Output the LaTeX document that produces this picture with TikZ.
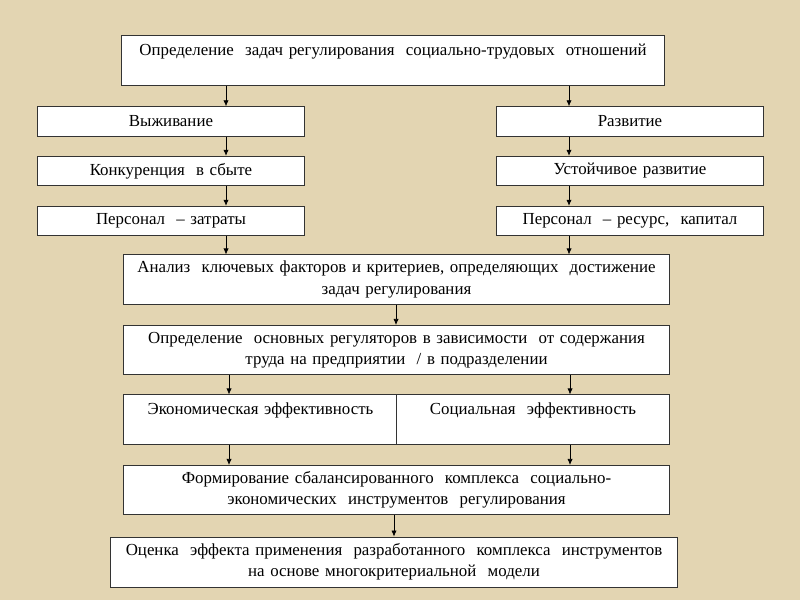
\documentclass[tikz,border=0pt]{standalone}
\usepackage{fontspec}
\setmainfont{Liberation Serif}
\usepackage{xcolor}
\usetikzlibrary{arrows.meta,positioning}
\definecolor{pagebg}{RGB}{227,213,178}

\begin{document}
\begin{tikzpicture}[
    x=0.025cm, y=-0.025cm,
    node distance=0.5cm,
    every node/.style={font=\rmfamily\fontsize{12}{15}\selectfont},
    box/.style={draw=black!80, fill=white, align=center, inner sep=2pt,
                line width=0.6pt},
    small/.style={box, text width=6.55cm, minimum height=0.74cm},
    wide/.style={box, text width=13.5cm, minimum height=1.23cm},
    half/.style={box, text width=6.7cm, minimum height=1.23cm},
    arrow/.style={-{Latex[length=1.5mm,width=1.3mm]}, line width=0.5pt, draw=black},
]
\useasboundingbox[fill=pagebg] (0,0) rectangle (800,600);

% Top box
\node[box, text width=13.45cm, minimum height=1.23cm] (task) at (393,60.5)
    {Определение \ задач регулирования \ социально-трудовых \ отношений\\ ~};

% Left column
\node[small] (surv)  at (171,121.5) {Выживание};
\node[small] (comp)  at (171,171)   {Конкуренция \ в сбыте};
\node[small] (costs) at (171,221)   {Персонал \ -- затраты};

% Right column
\node[small] (devel)  at (630,121.5) {Развитие};
\node[small] (sustd)  at (630,171)   {Устойчивое развитие};
\node[small] (capit)  at (630,221)   {Персонал \ -- ресурс, \ капитал};

% Main column
\node[wide] (anal)  at (396.5,279.5)
    {Анализ \ ключевых факторов и критериев, определяющих \ достижение\\ задач регулирования};
\node[wide] (regul) at (396.5,350)
    {Определение \ основных регуляторов в зависимости \ от содержания\\ труда на предприятии \ / в подразделении};
\node[half] (econ) at (260.5,419.5)
    {Экономическая эффективность\\ ~};
\node[half] (socl) at (533,419.5)
    {Социальная \ эффективность\\ ~};
\node[wide] (form)  at (396.5,490)
    {Формирование сбалансированного \ комплекса \ социально-\\ экономических \ инструментов \ регулирования};
\node[box, text width=14.05cm, minimum height=1.25cm] (eval) at (394,562)
    {Оценка \ эффекта применения \ разработанного \ комплекса \ инструментов\\ на основе многокритериальной \ модели};

% Arrow columns
\coordinate (colA) at (226,0);
\coordinate (colB) at (569,0);
\coordinate (colC) at (229,0);
\coordinate (colD) at (570,0);
\coordinate (colM) at (396,0);
\coordinate (colN) at (394,0);

\draw[arrow] (task.south -| colA)  -- (surv.north -| colA);
\draw[arrow] (surv.south -| colA)  -- (comp.north -| colA);
\draw[arrow] (comp.south -| colA)  -- (costs.north -| colA);
\draw[arrow] (costs.south -| colA) -- (anal.north -| colA);

\draw[arrow] (task.south -| colB)  -- (devel.north -| colB);
\draw[arrow] (devel.south -| colB) -- (sustd.north -| colB);
\draw[arrow] (sustd.south -| colB) -- (capit.north -| colB);
\draw[arrow] (capit.south -| colB) -- (anal.north -| colB);

\draw[arrow] (anal.south -| colM)  -- (regul.north -| colM);
\draw[arrow] (regul.south -| colC) -- (econ.north -| colC);
\draw[arrow] (regul.south -| colD) -- (socl.north -| colD);
\draw[arrow] (econ.south -| colC)  -- (form.north -| colC);
\draw[arrow] (socl.south -| colD)  -- (form.north -| colD);
\draw[arrow] (form.south -| colN)  -- (eval.north -| colN);
\end{tikzpicture}
\end{document}
